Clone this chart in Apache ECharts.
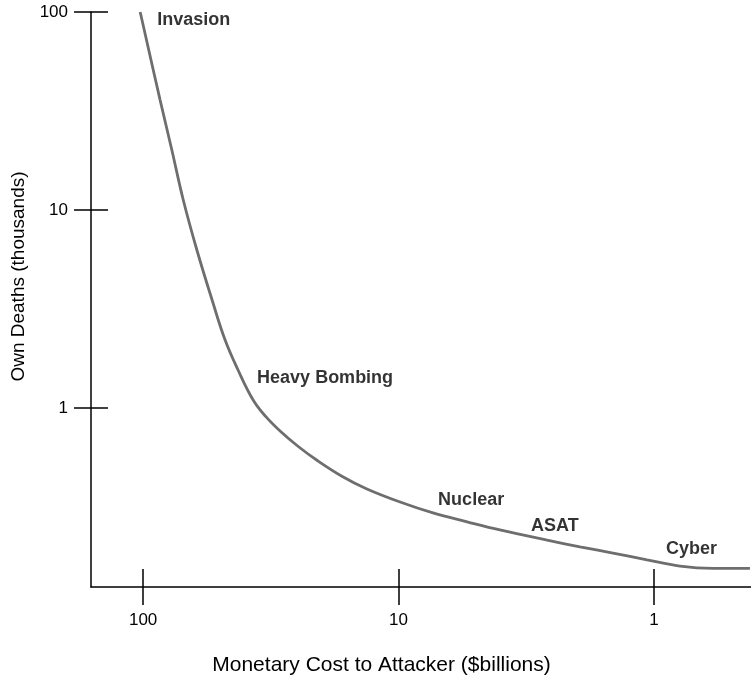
<!DOCTYPE html>
<html>
<head>
<meta charset="utf-8">
<title>Own deaths vs monetary cost</title>
<script src="https://cdn.jsdelivr.net/npm/echarts@6/dist/echarts.min.js"></script>
<style>
  html, body { margin: 0; padding: 0; background: #fff; }
  #chart { width: 751px; height: 677px; }
</style>
</head>
<body>
<div id="chart"></div>
<script>
// curve: monetary cost to attacker ($billions) -> own deaths (thousands)
const cost = [102.7, 85.8, 77.2, 69.6, 61.6, 53.7, 47.8, 42.5, 37.1, 33.0, 29.1, 24.7, 20.8, 16.6,
  13.3, 9.86, 7.33, 5.39, 4.01, 2.62, 1.95, 1.447, 1.065, 0.791, 0.587, 0.421]
const deaths = [100, 35.9, 20.1, 11.2, 6.28, 3.51, 2.21, 1.555, 1.098, 0.901, 0.765, 0.639, 0.543, 0.451,
  0.390, 0.335, 0.295, 0.266, 0.242, 0.215, 0.199, 0.185, 0.171, 0.159, 0.155, 0.155]

// tick labels on both axes
const tickValues = [1, 10, 100]

// options along the curve
const labelNames = ['Invasion', 'Heavy Bombing', 'Nuclear', 'ASAT', 'Cyber']
const labelCost = [88.1, 35.8, 7.0, 3.03, 0.897]
const labelDeaths = [91.1, 1.418, 0.343, 0.2535, 0.194]

const font = 'Liberation Sans, Arial, Helvetica, sans-serif'
const black = '#000'

const chart = echarts.init(document.getElementById('chart'))

const xBase = {
  type: 'log',
  position: 'bottom',
  offset: 0,
  inverse: true,
  min: 0.417,
  max: 160,
  splitLine: { show: false },
  axisLine: { show: true, lineStyle: { color: black, width: 1.5 } },
  axisTick: {
    show: true,
    length: 18,
    customValues: tickValues,
    lineStyle: { color: black, width: 1.5 },
  },
}
const yBase = {
  type: 'log',
  position: 'left',
  offset: 0,
  min: 0.1247,
  max: 100,
  splitLine: { show: false },
  axisLine: { show: true, lineStyle: { color: black, width: 1.5 } },
  axisTick: {
    show: true,
    length: 17,
    customValues: tickValues,
    lineStyle: { color: black, width: 1.5 },
  },
}

const option = {
  animation: false,
  grid: { left: 91, right: 0, top: 12, bottom: 90, containLabel: false, outerBoundsMode: 'none' },
  xAxis: [
    {
      ...xBase,
      name: 'Monetary Cost to Attacker ($billions)',
      nameLocation: 'middle',
      nameGap: 68,
      nameTextStyle: { fontFamily: font, fontSize: 21, color: black, padding: [0, 79, 0, 0] },
      axisLabel: {
        customValues: tickValues,
        margin: 25,
        fontFamily: font,
        fontSize: 17,
        color: black,
      },
    },
    {
      ...xBase,
      axisLine: { show: false },
      axisTick: { ...xBase.axisTick, inside: true },
      axisLabel: { show: false },
    },
  ],
  yAxis: [
    {
      ...yBase,
      name: 'Own Deaths (thousands)',
      nameLocation: 'middle',
      nameGap: 63,
      nameTextStyle: { fontFamily: font, fontSize: 19, color: black, padding: [0, 0, 0, 46] },
      axisLabel: {
        customValues: tickValues,
        margin: 23,
        fontFamily: font,
        fontSize: 17,
        color: black,
      },
    },
    {
      ...yBase,
      axisLine: { show: false },
      axisTick: { ...yBase.axisTick, inside: true },
      axisLabel: { show: false },
    },
  ],
  series: [
    {
      type: 'line',
      data: cost.map((c, i) => [c, deaths[i]]),
      smooth: 0.4,
      showSymbol: false,
      lineStyle: { color: '#6e6e6e', width: 2.8 },
      silent: true,
    },
    {
      type: 'scatter',
      symbolSize: 0,
      data: labelNames.map((n, i) => ({ name: n, value: [labelCost[i], labelDeaths[i]] })),
      label: {
        show: true,
        position: 'right',
        distance: 0,
        formatter: '{b}',
        fontFamily: font,
        fontSize: 18,
        fontWeight: 'bold',
        color: black,
      },
      silent: true,
    },
  ],
}

option && chart.setOption(option)
</script>
</body>
</html>
